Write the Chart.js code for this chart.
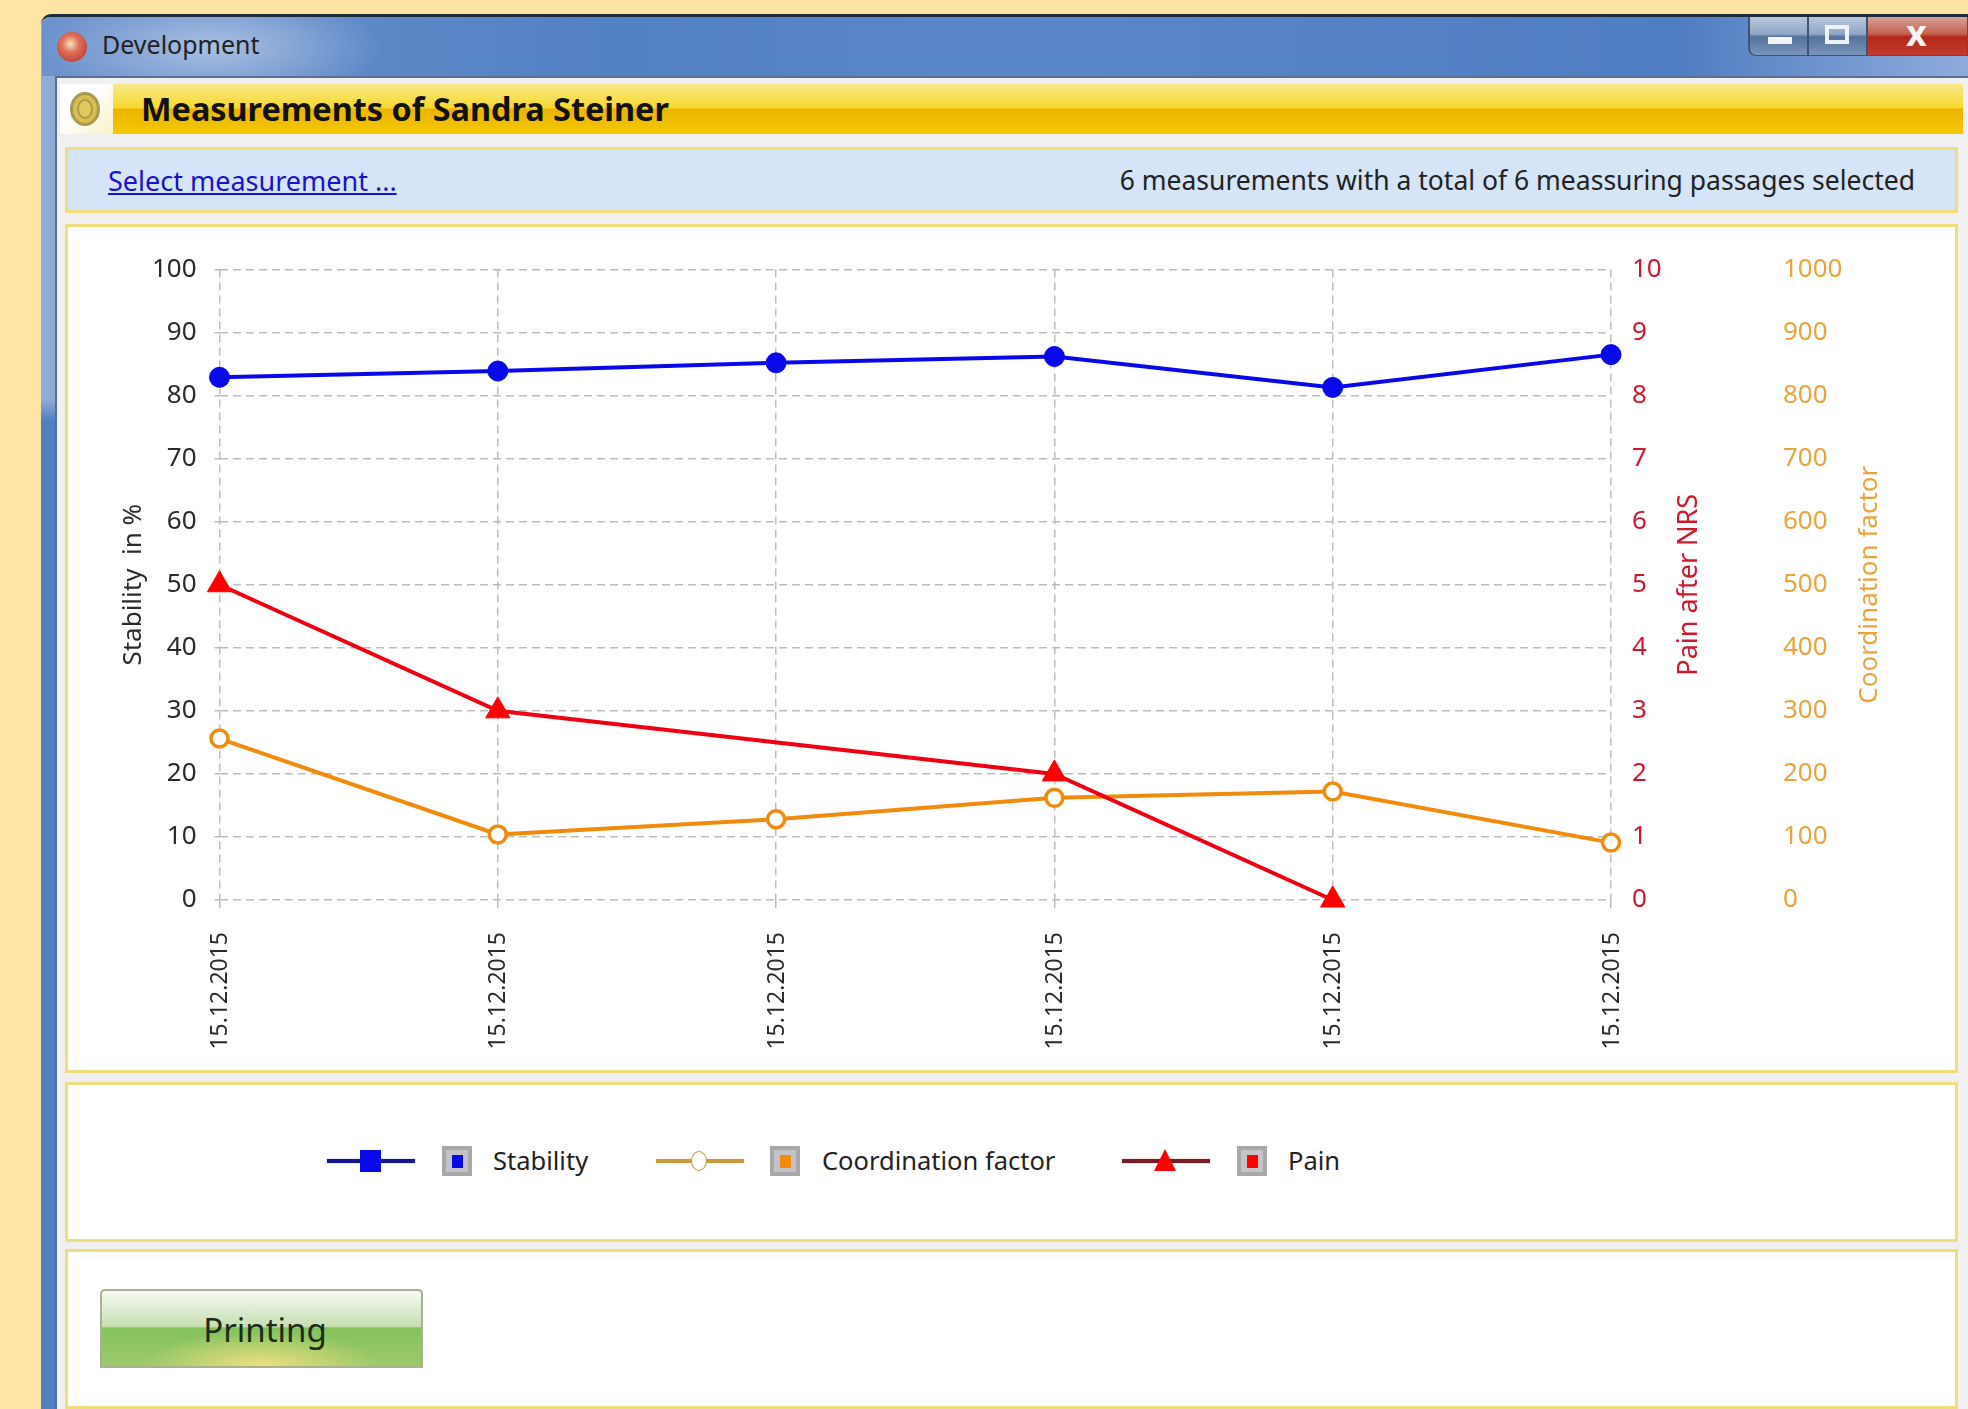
<!DOCTYPE html>
<html>
<head>
<meta charset="utf-8">
<script src="https://cdn.jsdelivr.net/npm/chart.js@4/dist/chart.umd.min.js"></script>
<style>
    html, body { margin: 0; padding: 0; background: #fee5a4; overflow: hidden; }
    body { width: 1968px; height: 1409px; position: relative; font-family: "Noto Sans", sans-serif; color: #222; }
    .abs { position: absolute; }
    .panel { position: absolute; box-sizing: border-box; background: #fff; border: 3px solid #f0dd7c; }
    .txt { position: absolute; white-space: nowrap; line-height: 1; }
    #win { left: 41px; top: 14px; width: 1927px; height: 1395px; border-top: 3px solid #1f2a3a; border-top-left-radius: 10px; box-sizing: border-box;
        background: linear-gradient(to bottom, #8fabd8 0, #8fabd8 27.5%, #4f7fc4 29%, #4f7fc4 100%); }
    #bar { left: 42px; top: 17px; width: 1926px; height: 59px; border-top-left-radius: 8px;
        background: radial-gradient(ellipse 170px 60px at 170px 30px, #a9c0e2 0, rgba(169,192,226,0) 100%),
                    linear-gradient(to right, #6d93cd 0, #5180c3 30%, #5a87c9 50%, #4f7dc1 85%, #8fabdc 100%); }
    #inner { left: 55px; top: 76px; width: 1913px; height: 1333px; background: #f0f0f0; border-top: 2px solid #5a6f90; border-left: 2px solid #5a6f90; box-sizing: border-box; }
    #head { left: 113px; top: 84px; width: 1850px; height: 50px;
        background: linear-gradient(to bottom, #f9e88a 0, #f6d92c 48%, #ecb400 50%, #f2c900 100%); }
    #headicon { left: 60px; top: 84px; width: 53px; height: 50px; background: linear-gradient(135deg, #fff 40%, #f8f0c8 100%); }
    #ring { left: 70px; top: 92px; width: 30px; height: 34px; border-radius: 50%; background: #e3c95a; border: 3px solid #a89a50; box-sizing: border-box; box-shadow: inset 0 0 0 4px #d8bf50, inset 0 0 0 6px #a89a50; }
    #appicon { left: 57px; top: 32px; width: 30px; height: 30px; border-radius: 50%; background: radial-gradient(circle at 45% 40%, #f6e6c0 0, #e0705a 35%, #a82a2a 100%); }
    .wbtn { position: absolute; top: 17px; height: 39px; box-sizing: border-box; border: 1px solid #3f5470; border-top: none; background: linear-gradient(to bottom, #b9c8dc 0, #8ea6c6 45%, #55729c 52%, #7a95ba 100%); }
    #link { color: #1a12d0; text-decoration: underline; }
    #canvas { position: absolute; left: 66px; top: 226px; }
    #printbtn { left: 100px; top: 1289px; width: 323px; height: 79px; box-sizing: border-box; border: 2px solid #a8b08e; border-radius: 5px 5px 0 0;
        background: radial-gradient(ellipse 120px 34px at 50% 100%, #ecdf80 0, rgba(236,223,128,0) 100%),
                    linear-gradient(to bottom, #f8faf5 0, #c5dfb0 48%, #84c25c 49%, #9cc969 100%);
        text-align: center; font-size: 33px; line-height: 78px; padding-left: 7px; color: #1c2a18; }
    .lgline { position: absolute; height: 4px; top: 1159px; width: 88px; }
    .lgbox { position: absolute; top: 1146px; width: 30px; height: 30px; box-sizing: border-box; border: 4px solid #a8a8a8; background: #c4c4c8; }
    .lgbox i { position: absolute; left: 6px; top: 5px; width: 11px; height: 13px; display: block; }
</style>
</head>
<body>
    <div class="abs" id="win"></div>
    <div class="abs" id="bar"></div>
    <div class="abs" id="appicon"></div>
    <div class="txt" style="left:102px;top:32px;font-size:25px;">Development</div>
    <div class="wbtn" style="left:1748px;width:60px;border-left:2px solid #3f5470;border-bottom-left-radius:8px;"></div>
    <div class="wbtn" style="left:1808px;width:59px;"></div>
    <div class="wbtn" style="left:1867px;width:101px;background:linear-gradient(to bottom,#d8a098 0,#c2604e 45%,#b3281c 52%,#c23c2c 100%);"></div>
    <div class="abs" style="left:1768px;top:37px;width:24px;height:7px;background:#f2f4f8;"></div>
    <div class="abs" style="left:1825px;top:25px;width:24px;height:19px;box-sizing:border-box;border:4px solid #eef1f6;"></div>
    <div class="txt" style="left:1906px;top:15px;font-size:36px;font-weight:bold;color:#f4f4f4;">x</div>

    <div class="abs" id="inner"></div>
    <div class="abs" id="headicon"></div>
    <div class="abs" id="ring"></div>
    <div class="abs" id="head"></div>
    <div class="txt" style="left:141px;top:92px;font-size:32.4px;font-weight:bold;color:#111;">Measurements of Sandra Steiner</div>

    <div class="panel" style="left:65px;top:147px;width:1893px;height:66px;background:#d5e5f7;"></div>
    <div class="txt" id="link" style="left:108px;top:167px;font-size:27px;">Select measurement ...</div>
    <div class="txt" style="right:53px;top:167px;font-size:26.5px;">6 measurements with a total of 6 meassuring passages selected</div>

    <div class="panel" style="left:65px;top:224px;width:1893px;height:849px;"></div>
    <div class="panel" style="left:65px;top:1082px;width:1893px;height:160px;"></div>
    <div class="panel" style="left:65px;top:1249px;width:1893px;height:160px;"></div>

    <canvas id="canvas" width="1891" height="846"></canvas>

    <div id="legend"></div>
    <div class="abs" id="printbtn">Printing</div>

    <script>
        var dates = ['15.12.2015', '15.12.2015', '15.12.2015', '15.12.2015', '15.12.2015', '15.12.2015'];
        var stability = [82.9, 83.9, 85.2, 86.2, 81.3, 86.5];
        var coordination = [256, 104, 128, 162, 172, 91];
        var pain = [5, 3, null, 2, 0, null];

        var legendNames = ['Stability', 'Coordination factor', 'Pain'];

        var blue = '#0808e8';
        var orange = '#f28a0c';
        var red = '#ee0014';

        var tickFont = { family: '"Noto Sans", sans-serif', size: 26 };
        var dateFont = { family: '"Noto Sans", sans-serif', size: 23 };

        // right hand axis titles read bottom to top, which the scale title option can't do
        var axisTitles = {
            id: 'axisTitles',
            afterDraw: function (chart) {
                var c = chart.ctx;
                var items = [
                    ['Stability  in %', chart.scales.y.left + 68, '#2a2a2a', 26],
                    ['Pain after NRS', chart.scales.yPain.left + 78, '#d0182c', 27],
                    ['Coordination factor', chart.scales.yCoord.left + 109, '#eba33c', 26]
                ];
                var mid = (chart.chartArea.top + chart.chartArea.bottom) / 2;
                items.forEach(function (it) {
                    c.save();
                    c.translate(it[1], mid);
                    c.rotate(-Math.PI / 2);
                    c.font = it[3] + 'px "Noto Sans", sans-serif';
                    c.fillStyle = it[2];
                    c.textAlign = 'center';
                    c.textBaseline = 'middle';
                    c.fillText(it[0], 0, 0);
                    c.restore();
                });
            }
        };

        var ctx = document.getElementById('canvas').getContext('2d');
        var chart = new Chart(ctx, {
            type: 'line',
            data: {
                labels: dates,
                datasets: [
                    {
                        label: legendNames[0], data: stability, yAxisID: 'y', order: 3,
                        borderColor: blue, borderWidth: 4, backgroundColor: blue,
                        pointStyle: 'circle', pointRadius: 10, pointBackgroundColor: blue, pointBorderColor: blue, pointBorderWidth: 1,
                        tension: 0, clip: false
                    },
                    {
                        label: legendNames[1], data: coordination, yAxisID: 'yCoord', order: 2,
                        borderColor: orange, borderWidth: 4, backgroundColor: '#fff',
                        pointStyle: 'circle', pointRadius: 8.5, pointBackgroundColor: '#fff', pointBorderColor: orange, pointBorderWidth: 3.5,
                        tension: 0, clip: false
                    },
                    {
                        label: legendNames[2], data: pain, yAxisID: 'yPain', order: 1, spanGaps: true,
                        borderColor: red, borderWidth: 4, backgroundColor: red,
                        pointStyle: 'triangle', pointRadius: 14, pointBackgroundColor: '#ff0000', pointBorderColor: '#ff0000', pointBorderWidth: 1,
                        tension: 0, clip: false
                    }
                ]
            },
            options: {
                responsive: false,
                animation: false,
                layout: { padding: { top: 43.5, left: 0, right: 0, bottom: 0 } },
                plugins: { legend: { display: false }, tooltip: { enabled: false } },
                scales: {
                    x: {
                        afterFit: function (s) { s.height = 172; },
                        grid: { color: '#bdbdbd', lineWidth: 1.5, tickLength: 12, tickBorderDash: [8, 5], drawOnChartArea: true },
                        border: { display: false, dash: [8, 5] },
                        ticks: { color: '#2a2a2a', font: dateFont, minRotation: 90, maxRotation: 90, padding: 20, labelOffset: 1, autoSkip: false }
                    },
                    y: {
                        position: 'left', min: 0, max: 100,
                        afterFit: function (s) { s.width = 153.5; },
                        grid: { color: '#bdbdbd', lineWidth: 1.5, tickLength: 5, tickBorderDash: [8, 5] },
                        border: { display: false, dash: [8, 5] },
                        ticks: { stepSize: 10, color: '#2a2a2a', font: tickFont, padding: 18 }
                    },
                    yPain: {
                        position: 'right', min: 0, max: 10,
                        afterFit: function (s) { s.width = 150; },
                        grid: { drawOnChartArea: false, drawTicks: false },
                        border: { display: false },
                        ticks: { stepSize: 1, color: '#d0182c', font: tickFont, padding: 21 }
                    },
                    yCoord: {
                        position: 'right', min: 0, max: 1000,
                        afterFit: function (s) { s.width = 196; },
                        grid: { drawOnChartArea: false, drawTicks: false },
                        border: { display: false },
                        ticks: {
                            stepSize: 100, color: '#eba33c', font: tickFont, padding: 22,
                            callback: function (v) { return String(v); }
                        }
                    }
                }
            },
            plugins: [axisTitles]
        });

        // legend sits in its own panel below the chart
        var legendRows = [
            { x: 327, box: 442, text: 493, line: '#14148c', glow: blue, fill: blue, dot: blue, mark: 'square' },
            { x: 656, box: 770, text: 822, line: '#c89a3c', glow: orange, fill: '#fff', dot: orange, mark: 'circle' },
            { x: 1122, box: 1237, text: 1288, line: '#7a1a22', glow: red, fill: '#ff0000', dot: '#ff0000', mark: 'triangle' }
        ];
        var legend = document.getElementById('legend');
        legendRows.forEach(function (r, i) {
            var html = '<div class="lgline" style="left:' + r.x + 'px;background:' + r.line + ';box-shadow:0 0 1px ' + r.glow + ';"></div>';
            var cx = r.x + 43;
            if (r.mark === 'square') {
                html += '<div class="abs" style="left:' + (cx - 10) + 'px;top:1150px;width:21px;height:22px;background:' + r.fill + ';"></div>';
            } else if (r.mark === 'circle') {
                html += '<div class="abs" style="left:' + (cx - 8) + 'px;top:1151px;width:16px;height:20px;box-sizing:border-box;border-radius:50%;background:#fff;border:1.5px solid #c89a3c;"></div>';
            } else {
                html += '<div class="abs" style="left:' + (cx - 11) + 'px;top:1149px;width:0;height:0;border-left:11px solid transparent;border-right:11px solid transparent;border-bottom:22px solid ' + r.fill + ';"></div>';
            }
            html += '<div class="lgbox" style="left:' + r.box + 'px;"><i style="background:' + r.dot + ';"></i></div>';
            html += '<div class="txt" style="left:' + r.text + 'px;top:1148px;font-size:25.5px;">' + legendNames[i] + '</div>';
            legend.insertAdjacentHTML('beforeend', html);
        });
    </script>
</body>
</html>
